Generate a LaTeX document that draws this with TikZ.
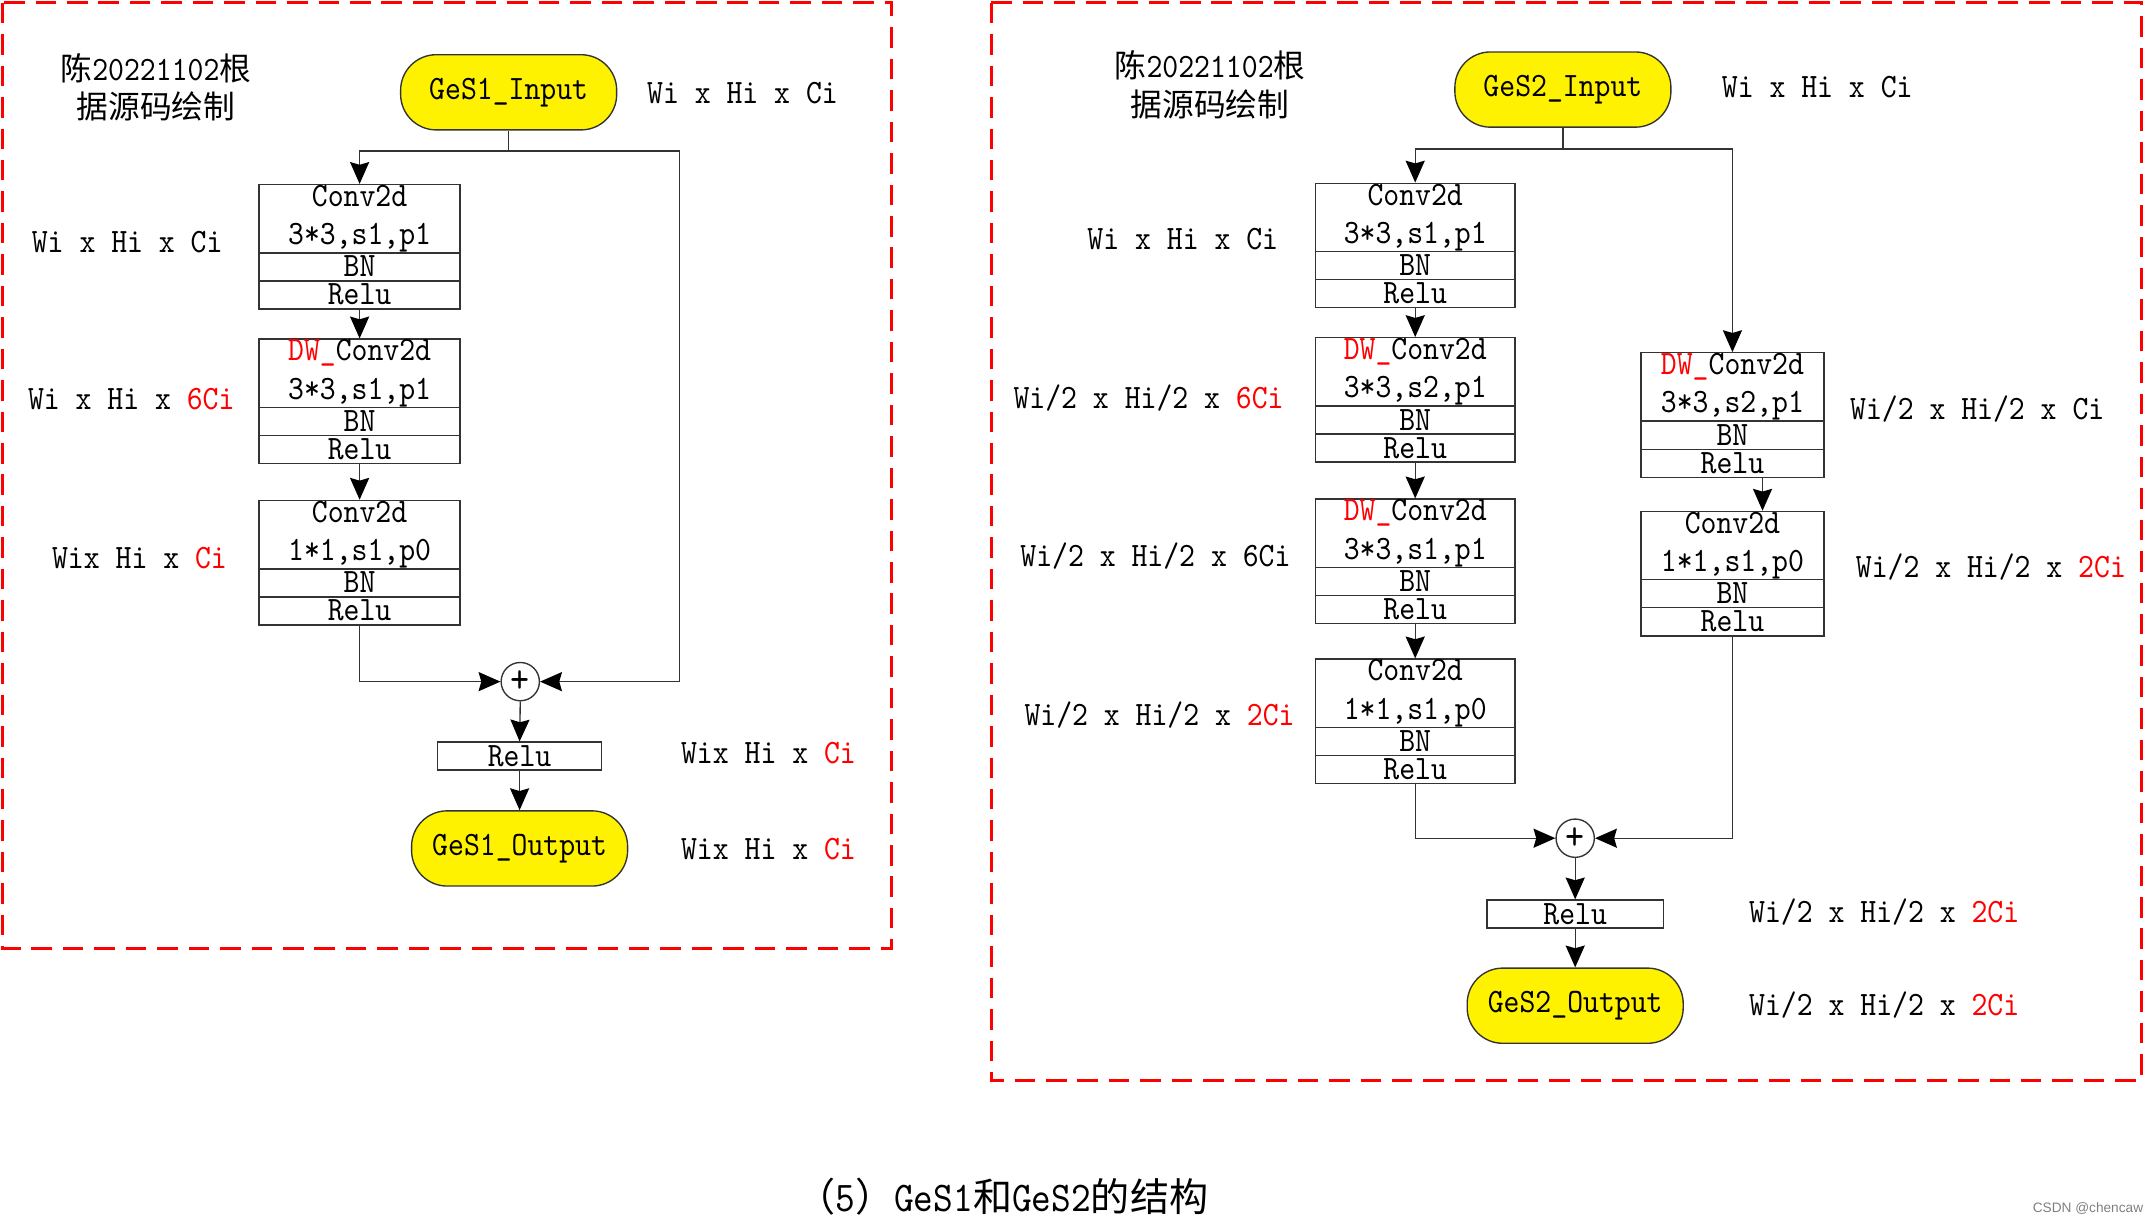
\documentclass[tikz,border=0pt]{standalone}
\usepackage{fontspec}
\newfontfamily\latfont[FakeStretch=0.885]{lmmono10-regular.otf}
\newfontfamily\cjkfont{Noto Sans CJK SC}
\newfontfamily\wmfont{Liberation Sans}
\usetikzlibrary{positioning,arrows.meta}
\newcommand{\zh}[1]{{\cjkfont\fontsize{23.2}{27}\selectfont #1}}

\begin{document}
\begin{tikzpicture}[x=1pt,y=-1pt,line width=1pt,
  every node/.style={inner sep=0pt,font=\latfont\fontsize{25}{28}\selectfont},
  blk/.style={draw=black!80,minimum width=147,minimum height=50,align=center},
  sub/.style={draw=black!80,minimum width=147,minimum height=20.5,text height=17.5pt,text depth=3pt},
  io/.style={draw=black!80,fill=yellow,rounded corners=26pt,minimum width=158,minimum height=55},
  add/.style={draw=black!80,circle,minimum size=28},
  wire/.style={draw=black!80},
  arr/.style={draw=black!80,-{Stealth[length=16pt,width=14pt,inset=2pt,color=black]}},
  frame/.style={draw=red,line width=2.2pt,dash pattern=on 15pt off 8pt},
  note/.style={align=center}]
  \path[use as bounding box] (0,0) rectangle (1568,895);

  % left: GeS1
  \draw[frame] (2,2) rectangle (652,694);
  \node[note] (nt1) at (114,64) {\zh{陈}20221102\zh{根}\\\zh{据源码绘制}};
  \node[io] (in1) at (372,67.5) {GeS1\_Input};
  \node (dI1) at (543,68) {Wi x Hi x Ci};

  \node[blk] (cl1) at (263,160) {Conv2d\\3*3,s1,p1};
  \node[sub,below=-1pt of cl1] (bl1) {BN};
  \node[sub,below=-1pt of bl1] (rl1) {Relu};
  \node (dl1) at (93,177) {Wi x Hi x Ci};

  \node[blk] (cl2) at (263,273) {{\color{red}DW\_}Conv2d\\3*3,s1,p1};
  \node[sub,below=-1pt of cl2] (bl2) {BN};
  \node[sub,below=-1pt of bl2] (rl2) {Relu};
  \node (dl2) at (96,292) {Wi x Hi x {\color{red}6Ci}};

  \node[blk] (cl3) at (263,391) {Conv2d\\1*1,s1,p0};
  \node[sub,below=-1pt of cl3] (bl3) {BN};
  \node[sub,below=-1pt of bl3] (rl3) {Relu};
  \node (dl3) at (102,408) {Wix Hi x {\color{red}Ci}};

  \node[add] (p1) at (380.5,498.5) {\fontsize{30}{30}\selectfont +};
  \node[sub,minimum width=120] (act1) at (380,553) {Relu};
  \node (da1) at (562,551) {Wix Hi x {\color{red}Ci}};
  \node[io] (out1) at (380,620.5) {GeS1\_Output};
  \node (dO1) at (562,621) {Wix Hi x {\color{red}Ci}};

  \coordinate (s1) at (372,110.5);
  \coordinate (k1) at (497,110.5);
  \draw[wire] (in1.south) -- (s1);
  \draw[arr] (s1) -| (cl1.north);
  \draw[arr] (s1) -- (k1) |- (p1.east);
  \draw[arr] (rl1.south) -- (cl2.north);
  \draw[arr] (rl2.south) -- (cl3.north);
  \draw[arr] (rl3.south) |- (p1.west);
  \draw[arr] (p1.south) -- (act1.north);
  \draw[arr] (act1.south) -- (out1.north);

  % right: GeS2
  \draw[frame] (725,2) rectangle (1566,790);
  \node[note] (nt2) at (885,62) {\zh{陈}20221102\zh{根}\\\zh{据源码绘制}};
  \node[io] (in2) at (1143,65.5) {GeS2\_Input};
  \node (dI2) at (1329,64) {Wi x Hi x Ci};

  \node[blk,minimum width=146] (ca1) at (1035,159) {Conv2d\\3*3,s1,p1};
  \node[sub,minimum width=146,below=-1pt of ca1] (ba1) {BN};
  \node[sub,minimum width=146,below=-1pt of ba1] (ra1) {Relu};
  \node (da1x) at (865,175) {Wi x Hi x Ci};

  \node[blk,minimum width=146] (ca2) at (1035,272) {{\color{red}DW\_}Conv2d\\3*3,s2,p1};
  \node[sub,minimum width=146,below=-1pt of ca2] (ba2) {BN};
  \node[sub,minimum width=146,below=-1pt of ba2] (ra2) {Relu};
  \node (da2) at (840,291) {Wi/2 x Hi/2 x {\color{red}6Ci}};

  \node[blk,minimum width=146] (ca3) at (1035,390) {{\color{red}DW\_}Conv2d\\3*3,s1,p1};
  \node[sub,minimum width=146,below=-1pt of ca3] (ba3) {BN};
  \node[sub,minimum width=146,below=-1pt of ba3] (ra3) {Relu};
  \node (da3) at (845,407) {Wi/2 x Hi/2 x 6Ci};

  \node[blk,minimum width=146] (ca4) at (1035,507) {Conv2d\\1*1,s1,p0};
  \node[sub,minimum width=146,below=-1pt of ca4] (ba4) {BN};
  \node[sub,minimum width=146,below=-1pt of ba4] (ra4) {Relu};
  \node (da4) at (848,523) {Wi/2 x Hi/2 x {\color{red}2Ci}};

  \node[blk,minimum width=134] (cb1) at (1267,283) {{\color{red}DW\_}Conv2d\\3*3,s2,p1};
  \node[sub,minimum width=134,below=-1pt of cb1] (bb1) {BN};
  \node[sub,minimum width=134,below=-1pt of bb1] (rb1) {Relu};
  \node (db1) at (1446,299) {Wi/2 x Hi/2 x Ci};

  \node[blk,minimum width=134] (cb2) at (1267,399) {Conv2d\\1*1,s1,p0};
  \node[sub,minimum width=134,below=-1pt of cb2] (bb2) {BN};
  \node[sub,minimum width=134,below=-1pt of bb2] (rb2) {Relu};
  \node (db2) at (1456,415) {Wi/2 x Hi/2 x {\color{red}2Ci}};

  \node[add] (p2) at (1152,613) {\fontsize{30}{30}\selectfont +};
  \node[sub,minimum width=129] (act2) at (1152,668.5) {Relu};
  \node (dA2) at (1378,667) {Wi/2 x Hi/2 x {\color{red}2Ci}};
  \node[io] (out2) at (1152,735.5) {GeS2\_Output};
  \node (dO2) at (1378,735) {Wi/2 x Hi/2 x {\color{red}2Ci}};

  \coordinate (s2) at (1143,109);
  \draw[wire] (in2.south) -- (s2);
  \draw[arr] (s2) -| (ca1.north);
  \draw[arr] (s2) -| (cb1.north);
  \draw[arr] (ra1.south) -- (ca2.north);
  \draw[arr] (ra2.south) -- (ca3.north);
  \draw[arr] (ra3.south) -- (ca4.north);
  \draw[arr] ([xshift=22pt]rb1.south) -- ([xshift=22pt]cb2.north);
  \draw[arr] (ra4.south) |- (p2.west);
  \draw[arr] (rb2.south) |- (p2.east);
  \draw[arr] (p2.south) -- (act2.north);
  \draw[arr] (act2.south) -- (out2.north);

  % caption
  \node (cap) at (733,875) {\fontsize{31}{36}\selectfont{\cjkfont\fontsize{28.6}{36}\selectfont （}5{\cjkfont\fontsize{28.6}{36}\selectfont ）}GeS1{\cjkfont\fontsize{28.6}{36}\selectfont 和}GeS2{\cjkfont\fontsize{28.6}{36}\selectfont 的结构}};
  \node[font=\wmfont\fontsize{10}{12}\selectfont,text=black!50] (wm) at (1527,884) {CSDN @chencaw};
\end{tikzpicture}
\end{document}
